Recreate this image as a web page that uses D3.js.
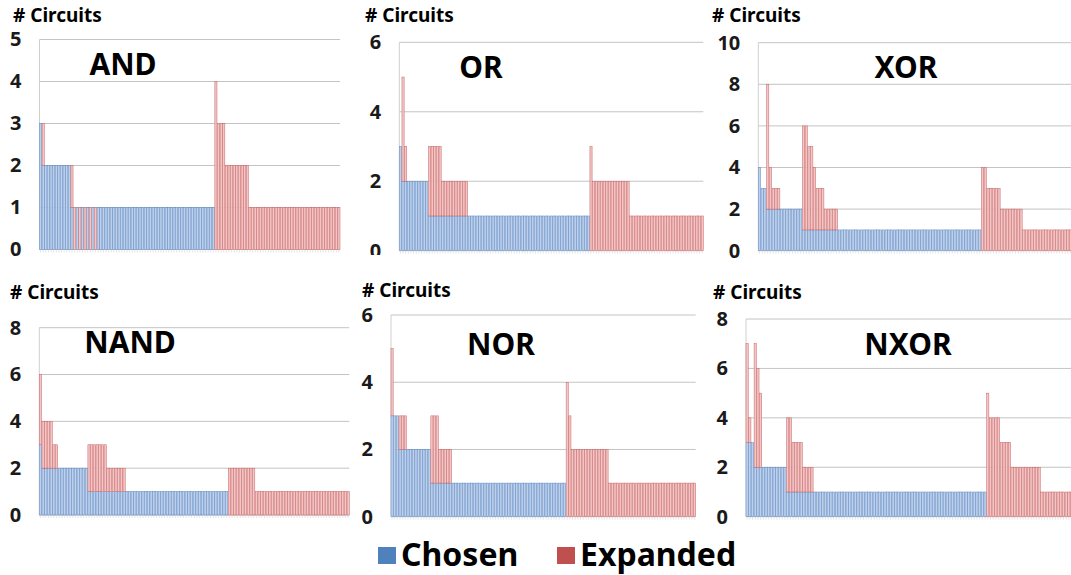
<!DOCTYPE html>
<html>
<head>
<meta charset="utf-8">
<script src="https://cdn.jsdelivr.net/npm/d3@7"></script>
<style>
  html, body { margin: 0; padding: 0; background: #fff; }
  svg { display: block; }
  text { font-family: "Noto Sans", "DejaVu Sans", sans-serif; font-weight: 700; }
</style>
</head>
<body>
<svg id="chart" width="1071" height="575"></svg>
<script>
// Circuits per candidate: blue = chosen, red = expanded (stack top).
const andChosen = [
  3,2,2,2,2,2,2,2,2,2, 2,2,1,0,1,0,1,0,1,0, 1,0,1,1,1,1,1,1,1,1,
  1,1,1,1,1,1,1,1,1,1, 1,1,1,1,1,1,1,1,1,1, 1,1,1,1,1,1,1,1,1,1,
  1,1,1,1,1,1,1,0,0,0, 0,0,0,0,0,0,0,0,0,0, 0,0,0,0,0,0,0,0,0,0,
  0,0,0,0,0,0,0,0,0,0, 0,0,0,0,0,0,0,0,0,0, 0,0,0,0,0
];
const andExpanded = [
  3,3,2,2,2,2,2,2,2,2, 2,2,2,1,1,1,1,1,1,1, 1,1,1,1,1,1,1,1,1,1,
  1,1,1,1,1,1,1,1,1,1, 1,1,1,1,1,1,1,1,1,1, 1,1,1,1,1,1,1,1,1,1,
  1,1,1,1,1,1,1,4,3,3, 3,2,2,2,2,2,2,2,2,2, 1,1,1,1,1,1,1,1,1,1,
  1,1,1,1,1,1,1,1,1,1, 1,1,1,1,1,1,1,1,1,1, 1,1,1,1,1
];

const orChosen = [
  3,2,2,2,2,2,2,2,2,2, 2,1,1,1,1,1,1,1,1,1, 1,1,1,1,1,1,1,1,1,1,
  1,1,1,1,1,1,1,1,1,1, 1,1,1,1,1,1,1,1,1,1, 1,1,1,1,1,1,1,1,1,1,
  1,1,1,1,1,1,1,1,1,1, 1,1,0,0,0,0,0,0,0,0, 0,0,0,0,0,0,0,0,0,0,
  0,0,0,0,0,0,0,0,0,0, 0,0,0,0,0,0,0,0,0,0, 0,0,0,0,0
];
const orExpanded = [
  3,5,3,2,2,2,2,2,2,2, 2,3,3,3,3,3,2,2,2,2, 2,2,2,2,2,2,1,1,1,1,
  1,1,1,1,1,1,1,1,1,1, 1,1,1,1,1,1,1,1,1,1, 1,1,1,1,1,1,1,1,1,1,
  1,1,1,1,1,1,1,1,1,1, 1,1,3,2,2,2,2,2,2,2, 2,2,2,2,2,2,2,1,1,1,
  1,1,1,1,1,1,1,1,1,1, 1,1,1,1,1,1,1,1,1,1, 1,1,1,1,1
];

const xorChosen = [
  4,3,3,2,2,2,2,2,2,2, 2,2,2,2,2,2,1,1,1,1, 1,1,1,1,1,1,1,1,1,1,
  1,1,1,1,1,1,1,1,1,1, 1,1,1,1,1,1,1,1,1,1, 1,1,1,1,1,1,1,1,1,1,
  1,1,1,1,1,1,1,1,1,1, 1,1,1,1,1,1,1,1,1,1, 1,0,0,0,0,0,0,0,0,0,
  0,0,0,0,0,0,0,0,0,0, 0,0,0,0,0,0,0,0,0,0, 0,0,0,0,0,0,0
];
const xorExpanded = [
  4,3,3,8,4,3,3,3,2,2, 2,2,2,2,2,2,6,6,5,5, 4,3,3,3,2,2,2,2,2,1,
  1,1,1,1,1,1,1,1,1,1, 1,1,1,1,1,1,1,1,1,1, 1,1,1,1,1,1,1,1,1,1,
  1,1,1,1,1,1,1,1,1,1, 1,1,1,1,1,1,1,1,1,1, 1,4,4,3,3,3,3,3,2,2,
  2,2,2,2,2,2,1,1,1,1, 1,1,1,1,1,1,1,1,1,1, 1,1,1,1,1,1,1
];

const nandChosen = [
  3,2,2,2,2,2,2,2,2,2, 2,2,2,2,2,2,2,2,1,1, 1,1,1,1,1,1,1,1,1,1,
  1,1,1,1,1,1,1,1,1,1, 1,1,1,1,1,1,1,1,1,1, 1,1,1,1,1,1,1,1,1,1,
  1,1,1,1,1,1,1,1,1,1, 0,0,0,0,0,0,0,0,0,0, 0,0,0,0,0,0,0,0,0,0,
  0,0,0,0,0,0,0,0,0,0, 0,0,0,0,0,0,0,0,0,0, 0,0,0,0,0
];
const nandExpanded = [
  6,4,4,4,4,3,3,2,2,2, 2,2,2,2,2,2,2,2,3,3, 3,3,3,3,3,2,2,2,2,2,
  2,2,1,1,1,1,1,1,1,1, 1,1,1,1,1,1,1,1,1,1, 1,1,1,1,1,1,1,1,1,1,
  1,1,1,1,1,1,1,1,1,1, 2,2,2,2,2,2,2,2,2,2, 1,1,1,1,1,1,1,1,1,1,
  1,1,1,1,1,1,1,1,1,1, 1,1,1,1,1,1,1,1,1,1, 1,1,1,1,1
];

const norChosen = [
  3,3,3,2,2,2,2,2,2,2, 2,2,2,2,2,1,1,1,1,1, 1,1,1,1,1,1,1,1,1,1,
  1,1,1,1,1,1,1,1,1,1, 1,1,1,1,1,1,1,1,1,1, 1,1,1,1,1,1,1,1,1,1,
  1,1,1,1,1,1,0,0,0,0, 0,0,0,0,0,0,0,0,0,0, 0,0,0,0,0,0,0,0,0,0,
  0,0,0,0,0,0,0,0,0,0, 0,0,0,0,0,0,0,0,0,0, 0,0,0,0,0
];
const norExpanded = [
  5,3,3,3,3,3,2,2,2,2, 2,2,2,2,2,3,3,3,2,2, 2,2,2,1,1,1,1,1,1,1,
  1,1,1,1,1,1,1,1,1,1, 1,1,1,1,1,1,1,1,1,1, 1,1,1,1,1,1,1,1,1,1,
  1,1,1,1,1,1,4,3,2,2, 2,2,2,2,2,2,2,2,2,2, 2,2,1,1,1,1,1,1,1,1,
  1,1,1,1,1,1,1,1,1,1, 1,1,1,1,1,1,1,1,1,1, 1,1,1,1,1
];

const nxorChosen = [
  3,3,3,2,2,2,2,2,2,2, 2,2,2,2,2,1,1,1,1,1, 1,1,1,1,1,1,1,1,1,1,
  1,1,1,1,1,1,1,1,1,1, 1,1,1,1,1,1,1,1,1,1, 1,1,1,1,1,1,1,1,1,1,
  1,1,1,1,1,1,1,1,1,1, 1,1,1,1,1,1,1,1,1,1, 1,1,1,1,1,1,1,1,1,0,
  0,0,0,0,0,0,0,0,0,0, 0,0,0,0,0,0,0,0,0,0, 0,0,0,0,0,0,0,0,0,0,
  0,0
];
const nxorExpanded = [
  7,4,3,7,6,5,2,2,2,2, 2,2,2,2,2,4,4,3,3,3, 3,2,2,2,2,1,1,1,1,1,
  1,1,1,1,1,1,1,1,1,1, 1,1,1,1,1,1,1,1,1,1, 1,1,1,1,1,1,1,1,1,1,
  1,1,1,1,1,1,1,1,1,1, 1,1,1,1,1,1,1,1,1,1, 1,1,1,1,1,1,1,1,1,5,
  4,4,4,4,3,3,3,3,2,2, 2,2,2,2,2,2,2,2,2,1, 1,1,1,1,1,1,1,1,1,1,
  1,1
];

const seriesNames = ["Chosen", "Expanded"];
const axisLabel = "# Circuits";

// Panel layout (pixel frame of each small chart)
const panels = [
  { title: "AND",  chosen: andChosen,  expanded: andExpanded,  yMax: 5,  step: 1,
    left: 39.5, right: 340,   top: 39.5,  bottom: 249.5, clip: [0, 0, 352, 262],     titleAt: [123, 75],  labelAt: [13, 22] },
  { title: "OR",   chosen: orChosen,   expanded: orExpanded,   yMax: 6,  step: 2,
    left: 399.3, right: 703.3, top: 42.3, bottom: 250.7, clip: [355, 0, 355, 255],   titleAt: [481, 78],  labelAt: [365, 22] },
  { title: "XOR",  chosen: xorChosen,  expanded: xorExpanded,  yMax: 10, step: 2,
    left: 758.3, right: 1080,  top: 42.7, bottom: 250.7, clip: [710, 0, 361, 262],   titleAt: [906, 78],  labelAt: [712, 22] },
  { title: "NAND", chosen: nandChosen, expanded: nandExpanded, yMax: 8,  step: 2,
    left: 39.3, right: 349.3,  top: 327.7, bottom: 515,  clip: [0, 278, 352, 252],   titleAt: [130, 353], labelAt: [10, 299] },
  { title: "NOR",  chosen: norChosen,  expanded: norExpanded,  yMax: 6,  step: 2,
    left: 391, right: 695.7,   top: 315,  bottom: 516.7, clip: [355, 278, 355, 252], titleAt: [501, 355], labelAt: [362, 297] },
  { title: "NXOR", chosen: nxorChosen, expanded: nxorExpanded, yMax: 8,  step: 2,
    left: 746, right: 1075.4,  top: 319,  bottom: 516.7, clip: [710, 278, 361, 252], titleAt: [908, 355], labelAt: [713, 299] }
];

const colors = {
  chosenFill: "#bfd1ea", chosenEdge: "#5a86c4",
  expandedFill: "#f2c6c6", expandedEdge: "#c96262",
  chosenKey: "#4f81bd", expandedKey: "#c0504d"
};

const svg = d3.select("#chart");
const defs = svg.append("defs");

panels.forEach((p, k) => {
  const id = "clip" + k;
  defs.append("clipPath").attr("id", id)
    .append("rect").attr("x", p.clip[0]).attr("y", p.clip[1])
    .attr("width", p.clip[2]).attr("height", p.clip[3]);

  const g = svg.append("g").attr("clip-path", `url(#${id})`);

  const n = p.chosen.length;
  const x = d3.scaleBand().domain(d3.range(n)).range([p.left, p.right]).paddingInner(0.18).paddingOuter(0);
  const y = d3.scaleLinear().domain([0, p.yMax]).range([p.bottom, p.top]);
  const ticks = d3.range(0, p.yMax + p.step / 2, p.step);

  // gridlines
  g.append("g").selectAll("line").data(ticks).join("line")
    .attr("x1", p.left).attr("x2", p.right)
    .attr("y1", d => y(d)).attr("y2", d => y(d))
    .attr("stroke", "#c4c4c4").attr("stroke-width", 1);

  // y axis line
  g.append("line")
    .attr("x1", p.left).attr("x2", p.left)
    .attr("y1", y(p.yMax)).attr("y2", y(0))
    .attr("stroke", "#cfcfcf").attr("stroke-width", 1);

  // y tick labels
  const yAxis = d3.axisLeft(y).tickValues(ticks).tickSize(0).tickPadding(18).tickFormat(d3.format("d"));
  const ya = g.append("g").attr("transform", `translate(${p.left},0)`).call(yAxis);
  ya.select(".domain").remove();
  ya.selectAll("text")
    .attr("fill", "#1a1a1a").style("font-size", "20px").style("font-weight", 700)
    .style("font-family", '"Noto Sans", sans-serif');

  // tiny category ticks below the baseline
  const xAxis = d3.axisBottom(x).tickSize(3).tickFormat("");
  const xa = g.append("g").attr("transform", `translate(0,${p.bottom})`).call(xAxis);
  xa.select(".domain").remove();
  xa.selectAll("line").attr("stroke", "#d4d4d4").attr("stroke-width", 0.6);

  const rows = d3.range(n).map(i => ({ i, c: p.chosen[i], e: p.expanded[i] }));

  // chosen (blue, bottom segment)
  g.append("g").selectAll("rect").data(rows.filter(d => d.c > 0)).join("rect")
    .attr("x", d => x(d.i)).attr("width", x.bandwidth())
    .attr("y", d => y(d.c)).attr("height", d => y(0) - y(d.c))
    .attr("fill", colors.chosenFill).attr("stroke", colors.chosenEdge).attr("stroke-width", 0.5);

  // expanded (red, stacked above chosen)
  g.append("g").selectAll("rect").data(rows.filter(d => d.e > d.c)).join("rect")
    .attr("x", d => x(d.i)).attr("width", x.bandwidth())
    .attr("y", d => y(d.e)).attr("height", d => y(d.c) - y(d.e))
    .attr("fill", colors.expandedFill).attr("stroke", colors.expandedEdge).attr("stroke-width", 0.5);

  // panel title
  g.append("text").attr("x", p.titleAt[0]).attr("y", p.titleAt[1])
    .attr("text-anchor", "middle").attr("fill", "#000")
    .style("font-size", "30px").text(p.title);

  // y axis caption
  g.append("text").attr("x", p.labelAt[0]).attr("y", p.labelAt[1])
    .attr("fill", "#000").style("font-size", "19px").text(axisLabel);
});

// legend
const legend = svg.append("g");
const keyItems = [
  { name: seriesNames[0], color: colors.chosenKey, x: 378 },
  { name: seriesNames[1], color: colors.expandedKey, x: 557 }
];
keyItems.forEach(it => {
  legend.append("rect").attr("x", it.x).attr("y", 547).attr("width", 18).attr("height", 17).attr("fill", it.color);
  legend.append("text").attr("x", it.x + 23).attr("y", 566).attr("fill", "#000")
    .style("font-size", "32px").text(it.name);
});
</script>
</body>
</html>
